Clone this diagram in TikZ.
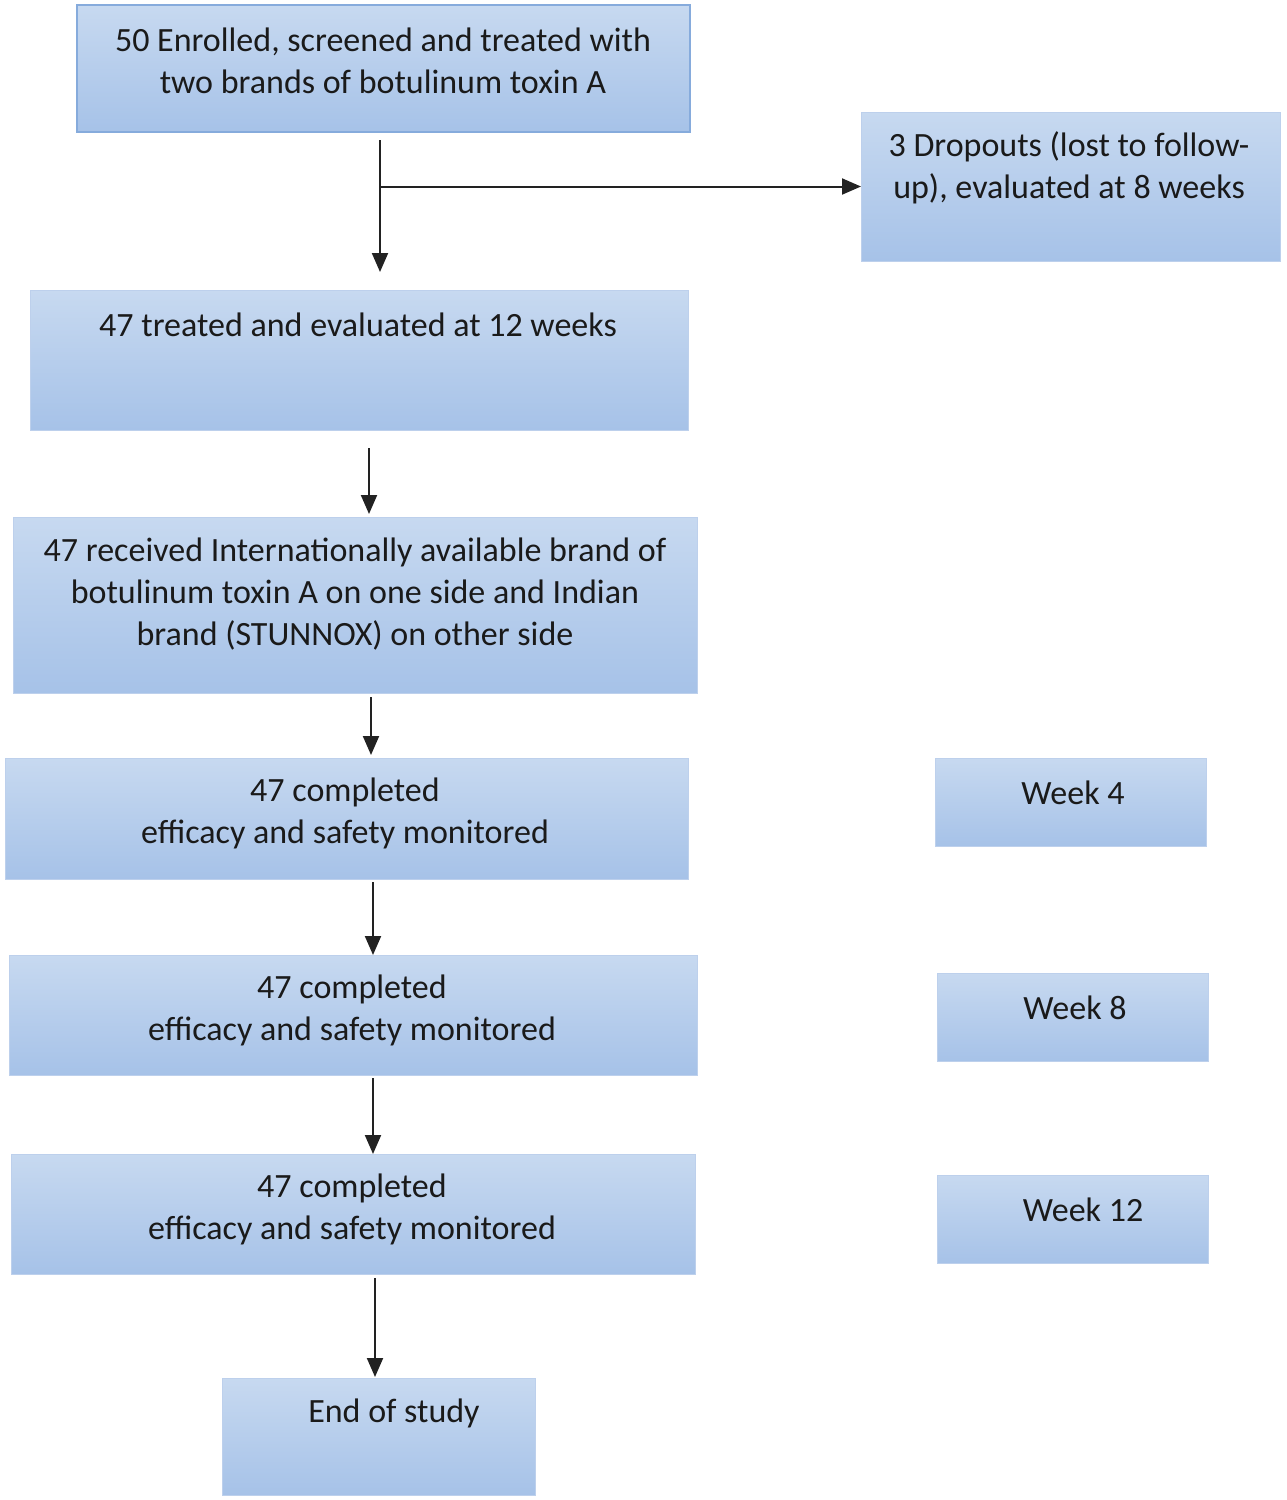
\documentclass[tikz,border=0pt]{standalone}
\usepackage{fontspec}
\setmainfont{Carlito}
\usetikzlibrary{arrows.meta,calc}
\definecolor{bt}{HTML}{C7D9F0}
\definecolor{bb}{HTML}{A6C2E8}
\definecolor{edgeA}{HTML}{86ABDC}
\definecolor{edgeB}{HTML}{BDD0EC}
\definecolor{ink}{HTML}{1A1A1A}
\definecolor{lin}{HTML}{222222}
\tikzset{
  box/.style={draw=edgeB, line width=1pt, top color=bt, bottom color=bb, shading=axis, inner sep=0pt, outer sep=0pt},
  txt/.style={font=\fontsize{34}{42}\selectfont, text=ink, align=center, inner sep=0pt},
  arr/.style={draw=lin, line width=2pt, -{Triangle[length=19pt,width=16pt]}}
}
\begin{document}
\begin{tikzpicture}[x=1pt,y=-1pt]
\useasboundingbox (0,0) rectangle (1286,1500);
% boxes
\node[box, draw=edgeA, line width=2pt, minimum width=613pt, minimum height=127pt] (b1) at (383.5,68.5) {};
\node[box, minimum width=419pt, minimum height=149pt] (b2) at (1070.5,186.5) {};
\node[box, minimum width=658pt, minimum height=140pt] (b3) at (359,360) {};
\node[box, minimum width=684pt, minimum height=176pt] (b4) at (355,605) {};
\node[box, minimum width=683pt, minimum height=121pt] (b5) at (346.5,818.5) {};
\node[box, minimum width=688pt, minimum height=120pt] (b6) at (353,1015) {};
\node[box, minimum width=684pt, minimum height=120pt] (b7) at (353,1214) {};
\node[box, minimum width=313pt, minimum height=117pt] (b8) at (378.5,1436.5) {};
\node[box, minimum width=271pt, minimum height=88pt] (w4) at (1070.5,802) {};
\node[box, minimum width=271pt, minimum height=88pt] (w8) at (1072.5,1017) {};
\node[box, minimum width=271pt, minimum height=88pt] (w12) at (1072.5,1219) {};
% texts
\node[txt] (t1) at (383,61) {50 Enrolled, screened and treated with\\two brands of botulinum toxin A};
\node[txt] (t2) at (1069,167.5) {3 Dropouts (lost to follow-\\up), evaluated at 8 weeks};
\node[txt] (t3) at (358,325) {47 treated and evaluated at 12 weeks};
\node[txt] (t4) at (355,594) {47 received Internationally available brand of\\botulinum toxin A on one side and Indian\\brand (STUNNOX) on other side};
\node[txt] (t5) at (345,813.5) {47 completed\\efficacy and safety monitored};
\node[txt] (t6) at (352,1010.5) {47 completed\\efficacy and safety monitored};
\node[txt] (t7) at (352,1209.5) {47 completed\\efficacy and safety monitored};
\node[txt] (t8) at (394,1413) {End of study};
\node[txt] (tw4) at (1073,793) {Week 4};
\node[txt] (tw8) at (1075,1008) {Week 8};
\node[txt] (tw12) at (1083,1210) {Week 12};
% connectors
\draw[arr, shorten <=8pt, shorten >=18pt] ([xshift=-3.5pt]b1.south) -- ([xshift=-3.5pt]b1.south |- b3.north);
\draw[arr] ([xshift=-3.5pt]b1.south |- b2.west) -- (b2.west);
\draw[arr, shorten <=18pt, shorten >=3pt] ([xshift=10pt]b3.south) -- ([xshift=10pt]b3.south |- b4.north);
\draw[arr, shorten <=4pt, shorten >=3pt] ([xshift=16pt]b4.south) -- ([xshift=16pt]b4.south |- b5.north);
\draw[arr, shorten <=3pt] ([xshift=26.5pt]b5.south) -- ([xshift=26.5pt]b5.south |- b6.north);
\draw[arr, shorten <=3pt] ([xshift=20pt]b6.south) -- ([xshift=20pt]b6.south |- b7.north);
\draw[arr, shorten <=4pt, shorten >=1pt] ([xshift=22pt]b7.south) -- ([xshift=22pt]b7.south |- b8.north);
\end{tikzpicture}
\end{document}
